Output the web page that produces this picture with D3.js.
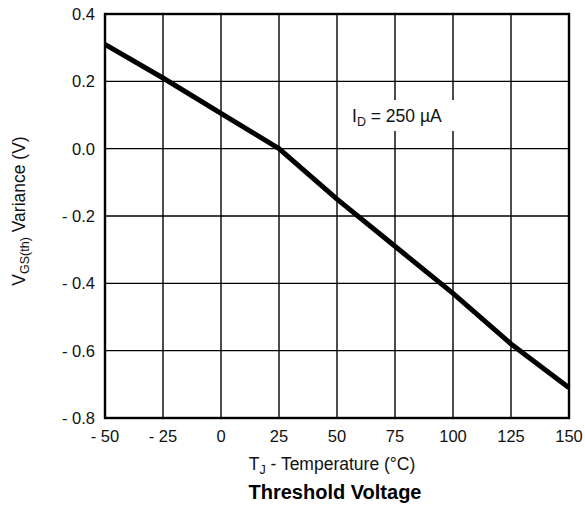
<!DOCTYPE html>
<html>
<head>
<meta charset="utf-8">
<script src="https://cdn.jsdelivr.net/npm/d3@7"></script>
<style>
  html, body { margin: 0; padding: 0; background: #fff; }
  svg { display: block; font-family: "Liberation Sans", Arial, Helvetica, sans-serif; }
</style>
</head>
<body>
<svg id="chart" width="585" height="506"></svg>
<script>
// Junction temperature (°C) and gate threshold voltage variance (V)
const temperature = [-50, -25, 0, 25, 50, 75, 100, 125, 150];
const vgsVariance = [0.31, 0.21, 0.105, 0.0, -0.15, -0.29, -0.43, -0.58, -0.71];

const xTicks = [-50, -25, 0, 25, 50, 75, 100, 125, 150];
const xTickLabels = ["- 50", "- 25", "0", "25", "50", "75", "100", "125", "150"];
const yTicks = [0.4, 0.2, 0.0, -0.2, -0.4, -0.6, -0.8];
const yTickLabels = ["0.4", "0.2", "0.0", "- 0.2", "- 0.4", "- 0.6", "- 0.8"];

const svg = d3.select("#chart");
const plot = { left: 105, right: 569, top: 14, bottom: 418 };

const x = d3.scaleLinear().domain([-50, 150]).range([plot.left, plot.right]);
const y = d3.scaleLinear().domain([-0.8, 0.4]).range([plot.bottom, plot.top]);

// grid
const grid = svg.append("g").attr("stroke", "#000").attr("stroke-width", 1.4);
grid.selectAll("line.v").data(xTicks.slice(1, -1)).join("line")
  .attr("x1", d => x(d)).attr("x2", d => x(d))
  .attr("y1", plot.top).attr("y2", plot.bottom);
grid.selectAll("line.h").data(yTicks.slice(1, -1)).join("line")
  .attr("x1", plot.left).attr("x2", plot.right)
  .attr("y1", d => y(d)).attr("y2", d => y(d));

// frame
svg.append("rect")
  .attr("x", plot.left).attr("y", plot.top)
  .attr("width", plot.right - plot.left).attr("height", plot.bottom - plot.top)
  .attr("fill", "none").attr("stroke", "#000").attr("stroke-width", 2.4);

// curve
const line = d3.line().x((d, i) => x(temperature[i])).y(d => y(d));
svg.append("path").datum(vgsVariance)
  .attr("d", line)
  .attr("fill", "none").attr("stroke", "#000")
  .attr("stroke-width", 5).attr("stroke-linejoin", "round");

// annotation with white backing
svg.append("rect").attr("x", 344).attr("y", 100).attr("width", 112).attr("height", 31).attr("fill", "#fff");
const ann = svg.append("text").attr("x", 352).attr("y", 122)
  .attr("font-size", 17.5).attr("fill", "#111");
ann.append("tspan").text("I");
ann.append("tspan").attr("font-size", 12.5).attr("dy", 4).text("D");
ann.append("tspan").attr("dy", -4).text(" = 250 µA");

// tick labels
svg.append("g").selectAll("text").data(xTicks).join("text")
  .attr("x", d => x(d)).attr("y", 442)
  .attr("text-anchor", "middle").attr("font-size", 16.5).attr("fill", "#111")
  .text((d, i) => xTickLabels[i]);
svg.append("g").selectAll("text").data(yTicks).join("text")
  .attr("x", 95).attr("y", d => y(d) + 6)
  .attr("text-anchor", "end").attr("font-size", 16.5).attr("fill", "#111")
  .text((d, i) => yTickLabels[i]);

// axis titles
const xt = svg.append("text").attr("x", 332).attr("y", 470)
  .attr("text-anchor", "middle").attr("font-size", 17.5).attr("fill", "#111");
xt.append("tspan").text("T");
xt.append("tspan").attr("font-size", 12.5).attr("dy", 4).text("J");
xt.append("tspan").attr("dy", -4).text(" - Temperature (°C)");

const yt = svg.append("text")
  .attr("transform", "translate(25,211) rotate(-90)")
  .attr("text-anchor", "middle").attr("font-size", 17.5).attr("fill", "#111");
yt.append("tspan").text("V");
yt.append("tspan").attr("font-size", 12.5).attr("dy", 4).text("GS(th)");
yt.append("tspan").attr("dy", -4).text("  Variance (V)");

svg.append("text").attr("x", 335).attr("y", 499)
  .attr("text-anchor", "middle").attr("font-size", 20).attr("font-weight", "bold")
  .attr("fill", "#000").text("Threshold Voltage");
</script>
</body>
</html>
